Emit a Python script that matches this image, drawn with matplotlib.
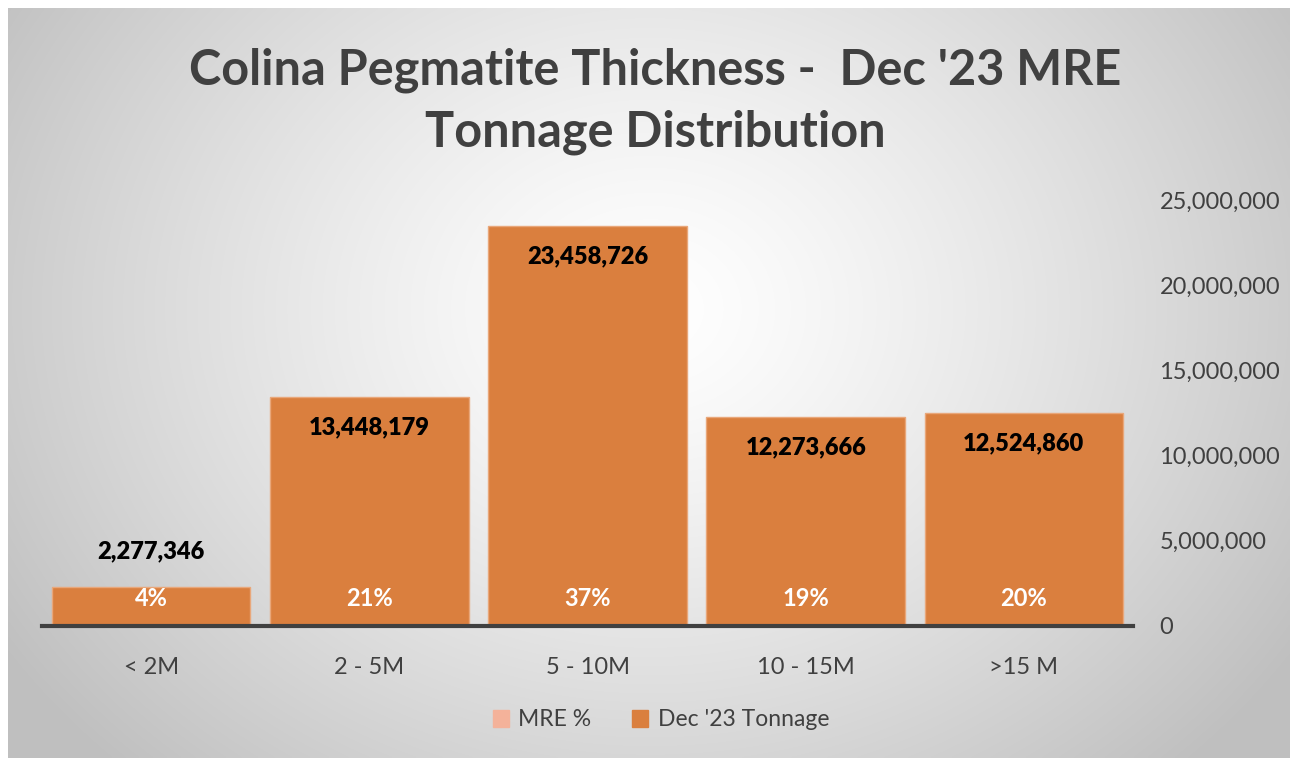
import numpy as np
import matplotlib
matplotlib.use("Agg")
import matplotlib.pyplot as plt
from matplotlib.patches import Patch

categories = ["< 2M", "2 - 5M", "5 - 10M", "10 - 15M", ">15 M"]
tonnage = [2277346, 13448179, 23458726, 12273666, 12524860]
mre_pct = [4, 21, 37, 19, 20]
yticks = [0, 5000000, 10000000, 15000000, 20000000, 25000000]

FONT = "Lato"
W, H = 1290, 758
fig = plt.figure(figsize=(W / 100, H / 100), dpi=100)
fig.patch.set_facecolor("white")

# background radial gradient
bg = fig.add_axes([8 / W, 0, 1 - 8 / W, 1 - 8 / H], zorder=-5)
ny, nx = 300, 500
yy, xx = np.mgrid[0:ny, 0:nx]
cx, cy = nx * 0.50, ny * 0.40
r = np.sqrt(((xx - cx) / (nx * 0.60)) ** 2 + ((yy - cy) / (ny * 0.85)) ** 2)
r = np.clip(r, 0, 1)
val = 1.0 - 0.25 * r ** 1.3
img = np.dstack([val, val, val])
bg.imshow(img, aspect="auto", extent=[0, 1, 0, 1], interpolation="bilinear")
bg.axis("off")

ax = fig.add_axes([42 / W, 1 - 626 / H, (1133 - 42) / W, (626 - 200) / H])
ax.patch.set_alpha(0)

bar_color = "#DA7F3E"
x = np.arange(len(categories))
bars = ax.bar(x, tonnage, width=0.91, color=bar_color, edgecolor="#E9A77A",
              linewidth=1.0, zorder=2)

ax.set_xlim(-0.5, len(categories) - 0.5)
ax.set_ylim(0, 25000000)
ax.yaxis.tick_right()
ax.set_yticks(yticks)
ax.set_yticklabels([f"{v:,}" for v in yticks], fontsize=17, color="#404040",
                   family=FONT)
ax.tick_params(axis="y", length=0, pad=19)
ax.set_xticks(x)
ax.set_xticklabels(categories, fontsize=17, color="#404040", family=FONT)
ax.tick_params(axis="x", length=0, pad=22)

for s in ["top", "left", "right"]:
    ax.spines[s].set_visible(False)
ax.spines["bottom"].set_color("#404040")
ax.spines["bottom"].set_linewidth(3)
ax.spines["bottom"].set_zorder(3)

for i, (v, p) in enumerate(zip(tonnage, mre_pct)):
    if v < 5000000:
        ax.annotate(f"{v:,}", (i, v), xytext=(0, 18), textcoords="offset points",
                    ha="center", va="bottom", fontsize=17, fontweight="heavy",
                    color="black", family=FONT)
    else:
        ax.annotate(f"{v:,}", (i, v), xytext=(0, -14), textcoords="offset points",
                    ha="center", va="top", fontsize=17, fontweight="heavy",
                    color="black", family=FONT)
    ax.annotate(f"{p}%", (i, 0), xytext=(0, 20), textcoords="offset points",
                ha="center", va="center", fontsize=17, fontweight="bold",
                color="white", family=FONT)

fig.text(655 / W, 1 - 70 / H, "Colina Pegmatite Thickness -  Dec '23 MRE",
         ha="center", va="center", fontsize=35, fontweight="bold",
         color="#404040", family=FONT)
fig.text(655 / W, 1 - 132 / H, "Tonnage Distribution",
         ha="center", va="center", fontsize=35, fontweight="bold",
         color="#404040", family=FONT)

handles = [Patch(facecolor="#F4B29A", edgecolor="#F4B29A", label="MRE %"),
           Patch(facecolor=bar_color, edgecolor=bar_color, label="Dec '23 Tonnage")]
leg = fig.legend(handles=handles, loc="center", bbox_to_anchor=(661 / W, 1 - 720 / H),
                 ncol=2, frameon=False, prop={"family": FONT, "size": 16.5},
                 handlelength=0.7, handleheight=0.7, handletextpad=0.4,
                 columnspacing=1.8)
for t in leg.get_texts():
    t.set_color("#404040")

fig.savefig("out.png", dpi=100)
